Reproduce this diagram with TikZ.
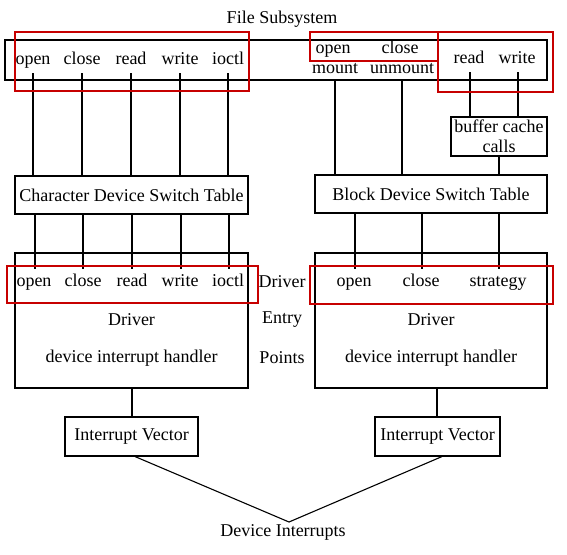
\documentclass[tikz,border=0pt]{standalone}
\usepackage{fontspec}
\setmainfont{Liberation Serif}
\begin{document}
\begin{tikzpicture}[x=1pt,y=-1pt,
  every node/.style={font=\fontsize{18}{20}\selectfont},
  lbl/.style={inner sep=5pt, text height=12pt, text depth=4pt},
  box/.style={draw, line width=1.1pt, inner sep=0pt},
  conn/.style={line width=1.1pt},
  hl/.style={draw=red!78!black, line width=2.4pt}]
\useasboundingbox[fill=white] (0,0) rectangle (567,554);

% title
\node (title) at (282,19) {File Subsystem};

% top box
\node[box, minimum width=542pt, minimum height=40pt] (top) at (276,60) {};
\node[lbl] (a1) at (33,60) {open};
\node[lbl] (a2) at (82,60) {close};
\node[lbl] (a3) at (131,60) {read};
\node[lbl] (a4) at (180,60) {write};
\node[lbl] (a5) at (228,60) {ioctl};
\node[lbl] (b1) at (333,49) {open};
\node[lbl] (b2) at (400,49) {close};
\node[lbl] (b3) at (335,69) {mount};
\node[lbl] (b4) at (402,69) {unmount};
\node[lbl] (c1) at (469,59) {read};
\node[lbl] (c2) at (517,59) {write};

% buffer cache
\node[box, minimum width=96pt, minimum height=39pt, align=center,
  font=\fontsize{18}{20}\selectfont] (buf) at (499,136.5) {buffer cache\\calls};

% switch tables
\node[box, minimum width=233pt, minimum height=38pt] (cdst) at (131.5,195) {Character Device Switch Table};
\node[box, minimum width=232pt, minimum height=38pt] (bdst) at (431,194) {Block Device Switch Table};

% driver boxes
\node[box, minimum width=233pt, minimum height=135pt] (dL) at (131.5,320.5) {};
\node[box, minimum width=232pt, minimum height=135pt] (dR) at (431,320.5) {};
\node[lbl] (d1) at (34,282) {open};
\node[lbl] (d2) at (83,282) {close};
\node[lbl] (d3) at (132,282) {read};
\node[lbl] (d4) at (180,282) {write};
\node[lbl] (d5) at (228,282) {ioctl};
\node (dLt) at (131.5,320) {Driver};
\node (dLh) at (131.5,358) {device interrupt handler};
\node[lbl] (e1) at (354,282) {open};
\node[lbl] (e2) at (421,282) {close};
\node[lbl] (e3) at (498,282) {strategy};
\node (dRt) at (431,320) {Driver};
\node (dRh) at (431,358) {device interrupt handler};

% middle column
\node (m1) at (282,282) {Driver};
\node (m2) at (282,320) {Entry};
\node (m3) at (282,358) {Points};

% interrupt vectors
\node[box, minimum width=133pt, minimum height=39pt] (ivL) at (131.5,436.5) {Interrupt Vector};
\node[box, minimum width=125pt, minimum height=39pt] (ivR) at (437.5,436.5) {Interrupt Vector};

\node (di) at (283,532) {Device Interrupts};
\coordinate (apex) at (289,522);

% connectors top -> char table
\foreach \n in {a1,a2,a3,a4,a5}
  \draw[conn] (\n.south) -- (\n.south |- cdst.north);
% char table -> driver entries
\draw[conn] (cdst.south -| 35,0) -- (d1.north -| 35,0);
\draw[conn] (cdst.south -| 83,0) -- (d2.north -| 83,0);
\draw[conn] (cdst.south -| 132,0) -- (d3.north -| 132,0);
\draw[conn] (cdst.south -| 181,0) -- (d4.north -| 181,0);
\draw[conn] (cdst.south -| 229,0) -- (d5.north -| 229,0);
% mount / unmount -> block table
\draw[conn] (b3.south |- top.south) -- (b3.south |- bdst.north);
\draw[conn] (b4.south |- top.south) -- (b4.south |- bdst.north);
% read / write -> buffer
\draw[conn] (c1.south -| 470,0) -- (buf.north -| 470,0);
\draw[conn] (c2.south -| 518,0) -- (buf.north -| 518,0);
\draw[conn] (buf.south) -- (buf.south |- bdst.north);
% block table -> driver entries
\draw[conn] (bdst.south -| 355,0) -- (e1.north -| 355,0);
\draw[conn] (bdst.south -| 422,0) -- (e2.north -| 422,0);
\draw[conn] (bdst.south -| 499,0) -- (e3.north -| 499,0);
% driver -> interrupt vectors
\draw[conn] (dL.south -| 132,0) -- (ivL.north -| 132,0);
\draw[conn] (dR.south -| 437,0) -- (ivR.north -| 437,0);
% interrupt vectors -> device interrupts
\draw[conn] (ivL.south -| 135,0) -- (apex);
\draw[conn] (ivR.south -| 442,0) -- (apex);

% red highlight boxes
\draw[hl] (15,32) rectangle (249,91);
\draw[hl] (310,32) rectangle (438,61);
\draw[hl] (438,32) rectangle (553,92);
\draw[hl] (7,266) rectangle (258,303);
\draw[hl] (310,266) rectangle (553,304);
\end{tikzpicture}
\end{document}
